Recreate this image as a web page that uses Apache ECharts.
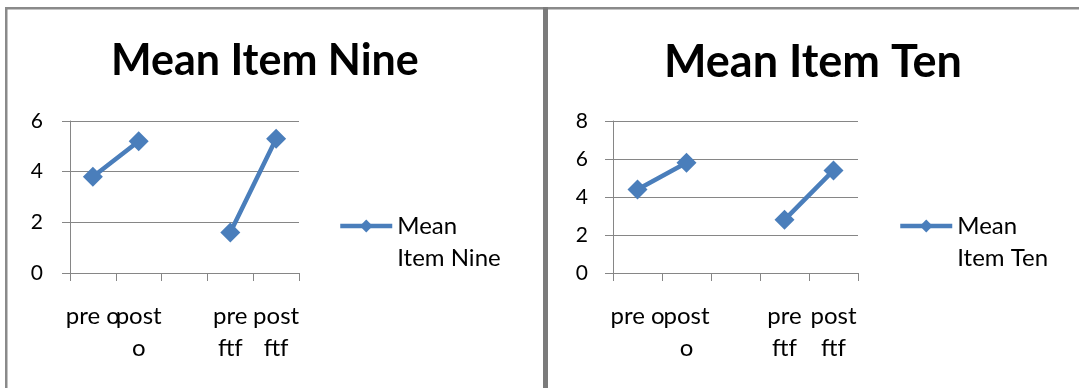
<!DOCTYPE html>
<html>
<head>
<meta charset="utf-8">
<script src="https://cdn.jsdelivr.net/npm/echarts@6/dist/echarts.min.js"></script>
<style>
  html, body { margin: 0; padding: 0; background: #ffffff; }
  #chart { width: 1079px; height: 388px; }
</style>
</head>
<body>
<div id="chart"></div>
<script>
// Category axis: the middle slot is an empty spacer between the two groups
const categories = ['pre o', 'post o', '', 'pre ftf', 'post ftf'];
const categoryLabels = ['pre o', 'post\no', '', 'pre\nftf', 'post\nftf'];

const itemNineName = 'Mean Item Nine';
const itemNineValues = [3.8, 5.2, null, 1.6, 5.3];

const itemTenName = 'Mean Item Ten';
const itemTenValues = [4.4, 5.8, null, 2.8, 5.4];

const itemNineTicks = { min: 0, max: 6, interval: 2 };
const itemTenTicks = { min: 0, max: 8, interval: 2 };

const FONT = 'Lato, "Noto Sans", sans-serif';
const GREY = '#868686';
const BLUE = '#4a7ebb';

function xAxisFor(gridIndex) {
  return {
    type: 'category',
    gridIndex: gridIndex,
    data: categories,
    boundaryGap: true,
    axisLine: { show: true, lineStyle: { color: GREY, width: 1 } },
    axisTick: { show: true, length: 8, interval: 0, lineStyle: { color: GREY } },
    axisLabel: {
      interval: 0,
      margin: 27,
      fontFamily: FONT,
      fontSize: 24,
      lineHeight: 32,
      color: '#000',
      formatter: (v, i) => categoryLabels[i]
    },
    splitLine: { show: false }
  };
}

function yAxisFor(gridIndex, ticks, margin) {
  return {
    type: 'value',
    gridIndex: gridIndex,
    min: ticks.min,
    max: ticks.max,
    interval: ticks.interval,
    axisLine: { show: true, lineStyle: { color: GREY, width: 1 } },
    axisTick: { show: true, length: 8, lineStyle: { color: GREY } },
    axisLabel: { margin: margin, fontFamily: FONT, fontSize: 21, color: '#000' },
    splitLine: { show: true, lineStyle: { color: GREY, width: 1 } }
  };
}

function seriesFor(name, values, idx) {
  return {
    name: name,
    type: 'line',
    xAxisIndex: idx,
    yAxisIndex: idx,
    data: values,
    connectNulls: false,
    symbol: 'diamond',
    symbolSize: 20,
    lineStyle: { color: BLUE, width: 4.5 },
    itemStyle: { color: BLUE },
    animation: false
  };
}

function legendFor(name, left) {
  return {
    data: [name],
    left: left,
    top: 178,
    padding: 0,
    itemWidth: 52,
    itemHeight: 16,
    selectedMode: false,
    lineStyle: { color: BLUE, width: 4.5 },
    itemStyle: { color: BLUE },
    // leading blank line puts the first text line level with the icon
    formatter: n => '\n' + n.replace(' ', '\n'),
    textStyle: {
      fontFamily: FONT,
      fontSize: 24,
      lineHeight: 32,
      color: '#000'
    }
  };
}

const chart = echarts.init(document.getElementById('chart'), null, { renderer: 'canvas' });

chart.setOption({
  backgroundColor: '#ffffff',
  animation: false,
  title: [
    {
      text: 'Mean Item Nine',
      left: 111, top: 40, padding: 0,
      textStyle: { fontFamily: FONT, fontSize: 43, fontWeight: 'bold', color: '#000' }
    },
    {
      text: 'Mean Item Ten',
      left: 664, top: 40, padding: 0,
      textStyle: { fontFamily: FONT, fontSize: 45, fontWeight: 'bold', color: '#000' }
    }
  ],
  legend: [legendFor(itemNineName, 338), legendFor(itemTenName, 898)],
  grid: [
    { left: 70, top: 121, width: 229, height: 152, containLabel: false },
    { left: 613, top: 121, width: 245, height: 152, containLabel: false }
  ],
  xAxis: [xAxisFor(0), xAxisFor(1)],
  yAxis: [yAxisFor(0, itemNineTicks, 27), yAxisFor(1, itemTenTicks, 25)],
  series: [seriesFor(itemNineName, itemNineValues, 0), seriesFor(itemTenName, itemTenValues, 1)],
  graphic: [
    // outer frame: top and left edges
    { type: 'rect', shape: { x: 5, y: 7, width: 1074, height: 2.5 }, style: { fill: '#8a8a8a' }, silent: true },
    { type: 'rect', shape: { x: 5, y: 7, width: 2.5, height: 381 }, style: { fill: '#8a8a8a' }, silent: true },
    // divider between the two panels
    { type: 'rect', shape: { x: 543, y: 7, width: 5, height: 381 }, style: { fill: '#7b7b7b' }, silent: true }
  ]
});
</script>
</body>
</html>
